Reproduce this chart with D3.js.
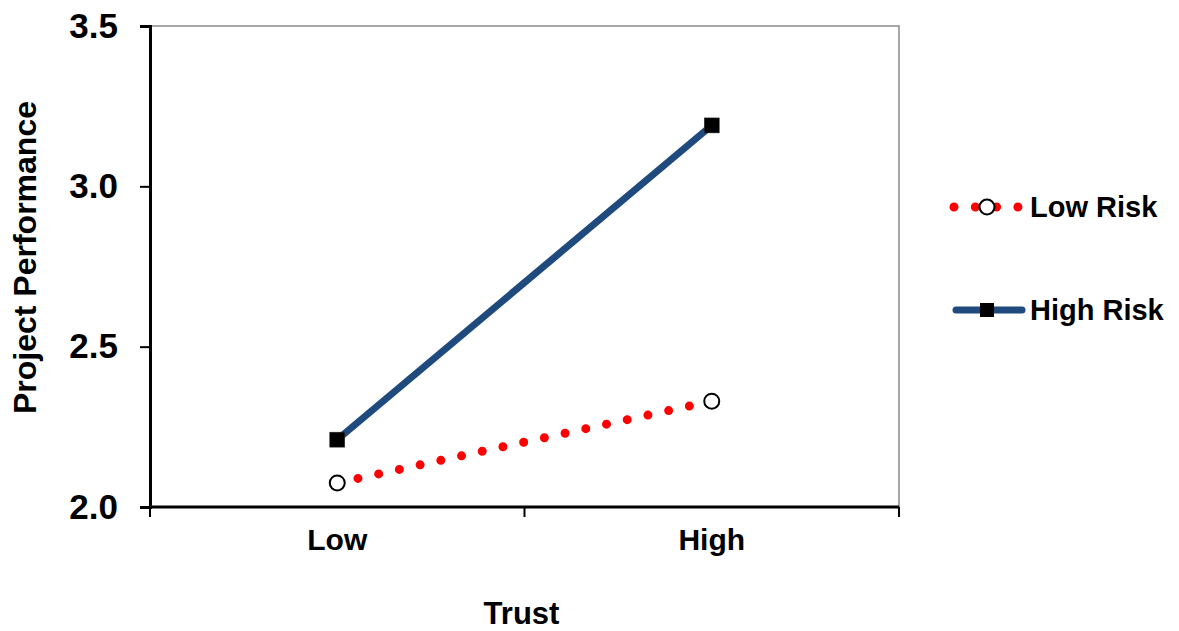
<!DOCTYPE html>
<html>
<head>
<meta charset="utf-8">
<script src="https://cdn.jsdelivr.net/npm/d3@7"></script>
<style>
  html, body { margin: 0; padding: 0; background: #fff; }
  svg { display: block; font-family: Arial, "Liberation Sans", sans-serif; font-weight: bold; }
</style>
</head>
<body>
<svg id="chart" width="1179" height="631"></svg>
<script>
// Interaction plot: project performance by trust level, split by risk
const categories = ["Low", "High"];
const lowRisk = [2.075, 2.33];
const highRisk = [2.21, 3.19];
const yTicks = [2.0, 2.5, 3.0, 3.5];
const seriesNames = ["Low Risk", "High Risk"];

const svg = d3.select("#chart");
const margin = { left: 150, right: 280, top: 26, bottom: 124 };
const W = 1179, H = 631;
const x0 = margin.left, x1 = W - margin.right;
const y0 = H - margin.bottom, y1 = margin.top;

const x = d3.scaleBand().domain(categories).range([x0, x1]);
const xc = d => x(d) + x.bandwidth() / 2;
const y = d3.scaleLinear().domain([2.0, 3.5]).range([y0, y1]);

// plot area frame (top and right edges)
svg.append("path")
  .attr("d", `M${x0},${y1}H${x1}V${y0}`)
  .attr("fill", "none").attr("stroke", "#8c8c8c").attr("stroke-width", 1.5);

// y axis
const yAxis = svg.append("g").attr("transform", `translate(${x0},0)`)
  .call(d3.axisLeft(y).tickValues(yTicks).tickFormat(d3.format(".1f")).tickSize(10).tickPadding(22));
yAxis.select(".domain").attr("stroke", "#000").attr("stroke-width", 3);
yAxis.selectAll(".tick line").attr("stroke", "#000").attr("stroke-width", 2);
yAxis.selectAll(".tick text").attr("font-size", 35).attr("font-weight", "bold")
  .attr("fill", "#000").attr("font-family", "Arial, 'Liberation Sans', sans-serif");

// x axis: ticks at band boundaries, labels at band centres
const xAxis = svg.append("g").attr("transform", `translate(0,${y0})`);
xAxis.append("line").attr("x1", x0).attr("x2", x1)
  .attr("stroke", "#000").attr("stroke-width", 3);
const bounds = [x0].concat(categories.map(c => x(c) + x.bandwidth()));
xAxis.selectAll("line.tk").data(bounds).join("line").attr("class", "tk")
  .attr("x1", d => d).attr("x2", d => d).attr("y1", 0).attr("y2", 10)
  .attr("stroke", "#000").attr("stroke-width", 2);
xAxis.selectAll("text").data(categories).join("text")
  .attr("x", d => xc(d)).attr("y", 43)
  .attr("text-anchor", "middle").attr("font-size", 30).attr("fill", "#000")
  .text(d => d);

// axis titles
svg.append("text").attr("x", (x0 + x1) / 2 - 3).attr("y", 624)
  .attr("text-anchor", "middle").attr("font-size", 31).text("Trust");
svg.append("text")
  .attr("transform", `translate(36,${(y0 + y1) / 2 - 9}) rotate(-90)`)
  .attr("text-anchor", "middle").attr("font-size", 32).text("Project Performance");

const line = d3.line().x((d, i) => xc(categories[i])).y(d => y(d));

// Low Risk: red round-dot line with open circle markers
svg.append("path").datum(lowRisk).attr("d", line)
  .attr("fill", "none").attr("stroke", "#ff0000").attr("stroke-width", 9)
  .attr("stroke-linecap", "round").attr("stroke-dasharray", "0 21.2");
svg.selectAll("circle.low").data(lowRisk).join("circle").attr("class", "low")
  .attr("cx", (d, i) => xc(categories[i])).attr("cy", d => y(d)).attr("r", 7.5)
  .attr("fill", "#fff").attr("stroke", "#000").attr("stroke-width", 2);

// High Risk: solid navy line with square markers
svg.append("path").datum(highRisk).attr("d", line)
  .attr("fill", "none").attr("stroke", "#1f4a7e").attr("stroke-width", 7);
svg.selectAll("rect.high").data(highRisk).join("rect").attr("class", "high")
  .attr("x", (d, i) => xc(categories[i]) - 7.5).attr("y", d => y(d) - 7.5)
  .attr("width", 15).attr("height", 15).attr("fill", "#000")
  .attr("stroke", "#333").attr("stroke-width", 0.5);

// legend
const legend = svg.append("g");
const ly = [207, 310];
legend.append("line").attr("x1", 954).attr("x2", 1018).attr("y1", ly[0]).attr("y2", ly[0])
  .attr("stroke", "#ff0000").attr("stroke-width", 9).attr("stroke-linecap", "round")
  .attr("stroke-dasharray", "0 21.3");
legend.append("circle").attr("cx", 987).attr("cy", ly[0]).attr("r", 7.5)
  .attr("fill", "#fff").attr("stroke", "#000").attr("stroke-width", 2);
legend.append("line").attr("x1", 956).attr("x2", 1022).attr("y1", ly[1]).attr("y2", ly[1])
  .attr("stroke", "#1f4a7e").attr("stroke-width", 7).attr("stroke-linecap", "round");
legend.append("rect").attr("x", 980).attr("y", ly[1] - 7).attr("width", 14).attr("height", 14)
  .attr("fill", "#000");
legend.selectAll("text").data(seriesNames).join("text")
  .attr("x", 1030).attr("y", (d, i) => ly[i] + 10)
  .attr("font-size", 29).attr("fill", "#000").text(d => d);
</script>
</body>
</html>
